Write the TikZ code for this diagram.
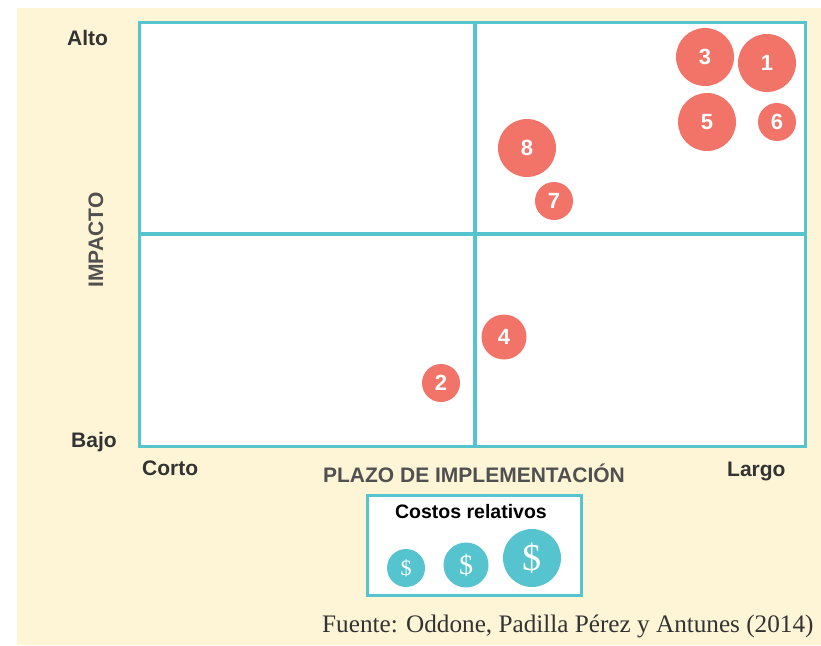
\documentclass[tikz,border=0pt]{standalone}
\usepackage{fontspec}
\setmainfont{Liberation Serif}
\setsansfont{Liberation Sans}
\definecolor{cream}{HTML}{FEF5D7}
\definecolor{tealc}{HTML}{56C4CF}
\definecolor{redc}{HTML}{F27368}
\definecolor{darktxt}{HTML}{333333}
\definecolor{graytxt}{HTML}{505050}
\tikzset{
  bub/.style={circle, fill=redc, inner sep=0pt, text=white, font=\sffamily\bfseries\fontsize{22}{22}\selectfont},
  coin/.style={circle, fill=tealc, inner sep=0pt, text=white},
  axlbl/.style={inner sep=0pt, text=darktxt, font=\sffamily\bfseries\fontsize{21}{21}\selectfont},
  frame/.style={draw=tealc, line width=3pt, fill=white},
  gridln/.style={draw=tealc, line width=3.5pt}
}
\begin{document}
\begin{tikzpicture}[x=1pt,y=-1pt]
\useasboundingbox (0,0) rectangle (821,645);
\fill[cream] (17,8) rectangle (821,645);
% plot frame
\path[frame] (139,22) rectangle (805,446);
\coordinate (vt) at (475,22);
\coordinate (vb) at (475,448);
\coordinate (hl) at (139,234);
\coordinate (hr) at (805,234);
\draw[gridln] (vt) -- (vb);
\draw[gridln] (hl) -- (hr);
% bubbles
\node[bub, minimum size=58pt] (n3) at (705,57) {3};
\node[bub, minimum size=58pt] (n1) at (767,63) {1};
\node[bub, minimum size=58pt] (n5) at (707,122) {5};
\node[bub, minimum size=38pt] (n6) at (777,122) {6};
\node[bub, minimum size=58pt] (n8) at (527,148) {8};
\node[bub, minimum size=38pt] (n7) at (554,201) {7};
\node[bub, minimum size=45pt] (n4) at (504,337) {4};
\node[bub, minimum size=38pt] (n2) at (441,383) {2};
% axis labels
\node[axlbl, anchor=base west] (alto) at (67,45) {Alto};
\node[axlbl, anchor=base west] (bajo) at (71,447) {Bajo};
\node[axlbl, anchor=base west] (corto) at (142,475) {Corto};
\node[axlbl, anchor=base west] (largo) at (727,476) {Largo};
\node[axlbl, anchor=base, text=graytxt] (plazo) at (474,482) {PLAZO DE IMPLEMENTACIÓN};
\node[axlbl, rotate=90, text=graytxt] (impacto) at (96,240) {IMPACTO};
% legend
\path[frame] (367,495) rectangle (581,595);
\node[inner sep=0pt, anchor=base, font=\sffamily\bfseries\fontsize{19.5}{19.5}\selectfont] (costos) at (471,518) {Costos relativos};
\node[coin, minimum size=38pt, font=\fontsize{22}{22}\selectfont] (c1) at (406,568) {\$};
\node[coin, minimum size=45pt, font=\fontsize{28}{28}\selectfont] (c2) at (466,565) {\$};
\node[coin, minimum size=58pt, font=\fontsize{38}{38}\selectfont] (c3) at (532,558) {\$};
% source
\node[inner sep=0pt, anchor=base west, text=darktxt, font=\fontsize{25.2}{25.2}\selectfont] (src) at (322,632) {Fuente: Oddone, Padilla Pérez y Antunes (2014)};
\end{tikzpicture}
\end{document}
